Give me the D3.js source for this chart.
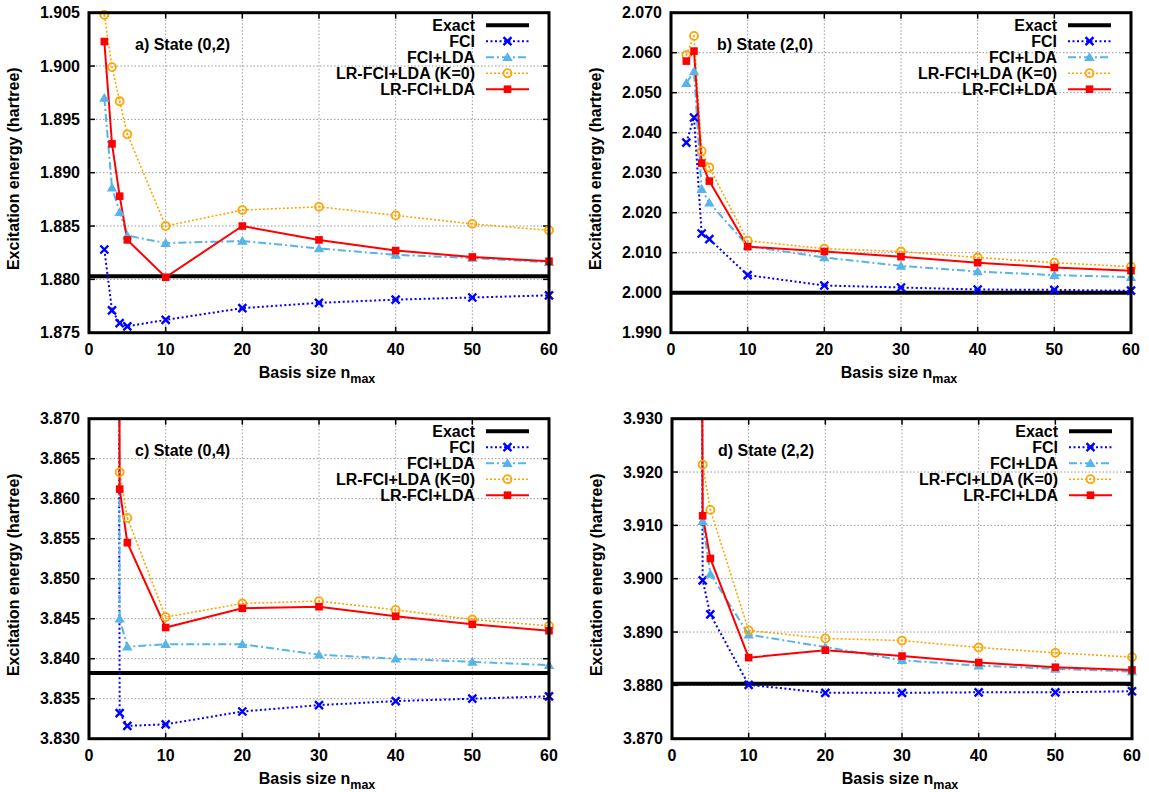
<!DOCTYPE html>
<html>
<head>
<meta charset="utf-8">
<script src="https://cdn.jsdelivr.net/npm/d3@7"></script>
<style>
  body { margin: 0; background: #fff; }
  text { font-family: "Liberation Sans", Arial, sans-serif; font-weight: bold; fill: #000; }
</style>
</head>
<body>
<div id="chart"></div>
<script>
// basis sizes
var nmaxAB = [2, 3, 4, 5, 10, 20, 30, 40, 50, 60];
var nmaxCD = [3, 4, 5, 10, 20, 30, 40, 50, 60];
var xTicks = [0, 10, 20, 30, 40, 50, 60];

// a) State (0,2)
var exactA = 1.8803;
var fciA = [1.8828, 1.8771, 1.8759, 1.8756, 1.8762, 1.8773, 1.8778, 1.8781, 1.8783, 1.8785];
var fciLdaA = [1.8970, 1.8886, 1.8863, 1.8841, 1.8834, 1.8836, 1.8829, 1.8823, 1.8820, 1.8816];
var lrK0A = [1.9048, 1.8999, 1.8967, 1.8936, 1.8850, 1.8865, 1.8868, 1.8860, 1.8852, 1.8846];
var lrA = [1.9023, 1.8927, 1.8878, 1.8837, 1.8802, 1.8850, 1.8837, 1.8827, 1.8821, 1.8817];
var yTicksA = [1.875, 1.880, 1.885, 1.890, 1.895, 1.900, 1.905];

// b) State (2,0)
var exactB = 2.0000;
var fciB = [2.0375, 2.0438, 2.0148, 2.0134, 2.0044, 2.0018, 2.0013, 2.0008, 2.0007, 2.0005];
var fciLdaB = [2.0524, 2.0553, 2.0259, 2.0225, 2.0117, 2.0088, 2.0067, 2.0053, 2.0044, 2.0039];
var lrK0B = [2.0594, 2.0642, 2.0354, 2.0313, 2.0130, 2.0110, 2.0103, 2.0088, 2.0075, 2.0065];
var lrB = [2.0579, 2.0604, 2.0324, 2.0279, 2.0115, 2.0103, 2.0090, 2.0075, 2.0063, 2.0055];
var yTicksB = [1.990, 2.000, 2.010, 2.020, 2.030, 2.040, 2.050, 2.060, 2.070];

// c) State (0,4) - first point (n=3) lies far above the plotted range
var exactC = 3.8382;
var fciC = [4.25, 3.8332, 3.8316, 3.8318, 3.8334, 3.8342, 3.8347, 3.8350, 3.8353];
var fciLdaC = [4.25, 3.8450, 3.8415, 3.8418, 3.8418, 3.8405, 3.8400, 3.8396, 3.8392];
var lrK0C = [4.25, 3.8633, 3.8576, 3.8452, 3.8469, 3.8472, 3.8461, 3.8449, 3.8441];
var lrC = [4.25, 3.8612, 3.8545, 3.8439, 3.8463, 3.8465, 3.8453, 3.8443, 3.8435];
var yTicksC = [3.830, 3.835, 3.840, 3.845, 3.850, 3.855, 3.860, 3.865, 3.870];

// d) State (2,2)
var exactD = 3.8803;
var fciD = [4.30, 3.8997, 3.8933, 3.8801, 3.8786, 3.8786, 3.8787, 3.8787, 3.8789];
var fciLdaD = [4.30, 3.9108, 3.9009, 3.8895, 3.8872, 3.8847, 3.8837, 3.8831, 3.8826];
var lrK0D = [4.30, 3.9214, 3.9129, 3.8903, 3.8888, 3.8884, 3.8871, 3.8861, 3.8853];
var lrD = [4.30, 3.9118, 3.9038, 3.8852, 3.8866, 3.8855, 3.8843, 3.8834, 3.8829];
var yTicksD = [3.870, 3.880, 3.890, 3.900, 3.910, 3.920, 3.930];

var seriesNames = ["Exact", "FCI", "FCI+LDA", "LR-FCI+LDA (K=0)", "LR-FCI+LDA"];

(function() {

    "use strict";

    var W = 1149, H = 792,
        plotW = 460, plotH = 320;

    var styles = [
        {color: "#000000", width: 4, dash: null, marker: null},
        {color: "#0000ff", width: 2, dash: "2,2.5", marker: "x"},
        {color: "#56b4e9", width: 2, dash: "8,3,2,3", marker: "tri"},
        {color: "#ffa500", width: 1.6, dash: "2,2", marker: "circle"},
        {color: "#ff0000", width: 2, dash: null, marker: "square"}
    ];

    var panels = [
        {left: 89, top: 12.7, title: "a) State (0,2)", n: nmaxAB, exact: exactA,
         series: [fciA, fciLdaA, lrK0A, lrA], yTicks: yTicksA},
        {left: 671, top: 12.7, title: "b) State (2,0)", n: nmaxAB, exact: exactB,
         series: [fciB, fciLdaB, lrK0B, lrB], yTicks: yTicksB},
        {left: 89, top: 418.7, title: "c) State (0,4)", n: nmaxCD, exact: exactC,
         series: [fciC, fciLdaC, lrK0C, lrC], yTicks: yTicksC},
        {left: 672, top: 418.7, title: "d) State (2,2)", n: nmaxCD, exact: exactD,
         series: [fciD, fciLdaD, lrK0D, lrD], yTicks: yTicksD}
    ];

    var drawMarker = function(g, type, color) {
        if (type === "x") {
            g.append("path").attr("d", "M-4,-4L4,4M-4,4L4,-4")
             .attr("stroke", color).attr("stroke-width", 2.4).attr("fill", "none");
        } else if (type === "tri") {
            g.append("path").attr("d", "M0,-5L5.2,3.8L-5.2,3.8Z").attr("fill", color);
        } else if (type === "circle") {
            g.append("circle").attr("r", 4).attr("fill", "none")
             .attr("stroke", color).attr("stroke-width", 1.8);
            g.append("circle").attr("r", 0.9).attr("fill", color);
        } else if (type === "square") {
            g.append("rect").attr("x", -3.8).attr("y", -3.8)
             .attr("width", 7.6).attr("height", 7.6).attr("fill", color);
        }
    };

    var svg = d3.select("#chart").append("svg")
        .attr("width", W).attr("height", H);

    panels.forEach(function(p, pi) {

        var yTicks = p.yTicks,
            x = d3.scaleLinear().domain([0, 60]).range([0, plotW]),
            y = d3.scaleLinear().domain([yTicks[0], yTicks[yTicks.length - 1]]).range([plotH, 0]);

        var g = svg.append("g").attr("transform", "translate(" + p.left + "," + p.top + ")");

        g.append("clipPath").attr("id", "clip" + pi)
         .append("rect").attr("width", plotW).attr("height", plotH);

        // Grid
        var grid = g.append("g").attr("stroke", "#999").attr("stroke-width", 1)
                    .attr("stroke-dasharray", "1.5,2");
        xTicks.slice(1, -1).forEach(function(t) {
            grid.append("line").attr("x1", x(t)).attr("x2", x(t)).attr("y1", 0).attr("y2", plotH);
        });
        yTicks.slice(1, -1).forEach(function(t) {
            grid.append("line").attr("y1", y(t)).attr("y2", y(t)).attr("x1", 0).attr("x2", plotW);
        });

        // Tick marks, mirrored on all sides
        var ticks = g.append("g").attr("stroke", "#000").attr("stroke-width", 1.5);
        xTicks.forEach(function(t) {
            ticks.append("line").attr("x1", x(t)).attr("x2", x(t)).attr("y1", plotH).attr("y2", plotH - 6);
            ticks.append("line").attr("x1", x(t)).attr("x2", x(t)).attr("y1", 0).attr("y2", 6);
        });
        yTicks.forEach(function(t) {
            ticks.append("line").attr("y1", y(t)).attr("y2", y(t)).attr("x1", 0).attr("x2", 6);
            ticks.append("line").attr("y1", y(t)).attr("y2", y(t)).attr("x1", plotW).attr("x2", plotW - 6);
        });

        // Tick labels
        g.selectAll(".xl").data(xTicks).enter().append("text")
         .attr("x", function(d) { return x(d); }).attr("y", plotH + 22)
         .attr("text-anchor", "middle").style("font-size", "16px").text(function(d) { return d; });
        g.selectAll(".yl").data(yTicks).enter().append("text")
         .attr("x", -9).attr("y", function(d) { return y(d); }).attr("dy", "0.35em")
         .attr("text-anchor", "end").style("font-size", "16px").text(d3.format(".3f"));

        // Axis titles
        var xl = g.append("text").attr("x", plotW / 2 - 2).attr("y", plotH + 45)
                  .attr("text-anchor", "middle").style("font-size", "16px");
        xl.append("tspan").text("Basis size n");
        xl.append("tspan").attr("dy", 5).style("font-size", "12.5px").text("max");
        g.append("text").attr("transform", "translate(-70," + (plotH / 2 - 4) + ") rotate(-90)")
         .attr("text-anchor", "middle").style("font-size", "16px").text("Excitation energy (hartree)");

        // Panel title
        g.append("text").attr("x", 46).attr("y", 32).attr("dy", "0.35em")
         .style("font-size", "16px").text(p.title);

        // Data
        var plot = g.append("g").attr("clip-path", "url(#clip" + pi + ")");
        plot.append("line").attr("x1", 0).attr("x2", plotW)
            .attr("y1", y(p.exact)).attr("y2", y(p.exact))
            .attr("stroke", styles[0].color).attr("stroke-width", styles[0].width);

        var line = d3.line().x(function(d) { return x(d[0]); }).y(function(d) { return y(d[1]); });
        p.series.forEach(function(vals, si) {
            var st = styles[si + 1],
                pts = vals.map(function(v, i) { return [p.n[i], v]; });
            plot.append("path").datum(pts).attr("d", line)
                .attr("fill", "none").attr("stroke", st.color).attr("stroke-width", st.width)
                .attr("stroke-dasharray", st.dash);
            pts.filter(function(d) { return d[1] <= y.domain()[1]; }).forEach(function(d) {
                drawMarker(g.append("g").attr("transform", "translate(" + x(d[0]) + "," + y(d[1]) + ")"),
                           st.marker, st.color);
            });
        });

        // Border
        g.append("rect").attr("width", plotW).attr("height", plotH)
         .attr("fill", "none").attr("stroke", "#000").attr("stroke-width", 3);

        // Legend
        var leg = g.append("g");
        seriesNames.forEach(function(name, i) {
            var st = styles[i], ly = 12.5 + 16 * i;
            leg.append("text").attr("x", 386).attr("y", ly).attr("dy", "0.35em")
               .attr("text-anchor", "end").style("font-size", "16px").text(name);
            leg.append("line").attr("x1", 397).attr("x2", 440).attr("y1", ly).attr("y2", ly)
               .attr("stroke", st.color).attr("stroke-width", st.width).attr("stroke-dasharray", st.dash);
            if (st.marker) {
                drawMarker(leg.append("g").attr("transform", "translate(418.5," + ly + ")"), st.marker, st.color);
            }
        });
    });

})();
</script>
</body>
</html>
